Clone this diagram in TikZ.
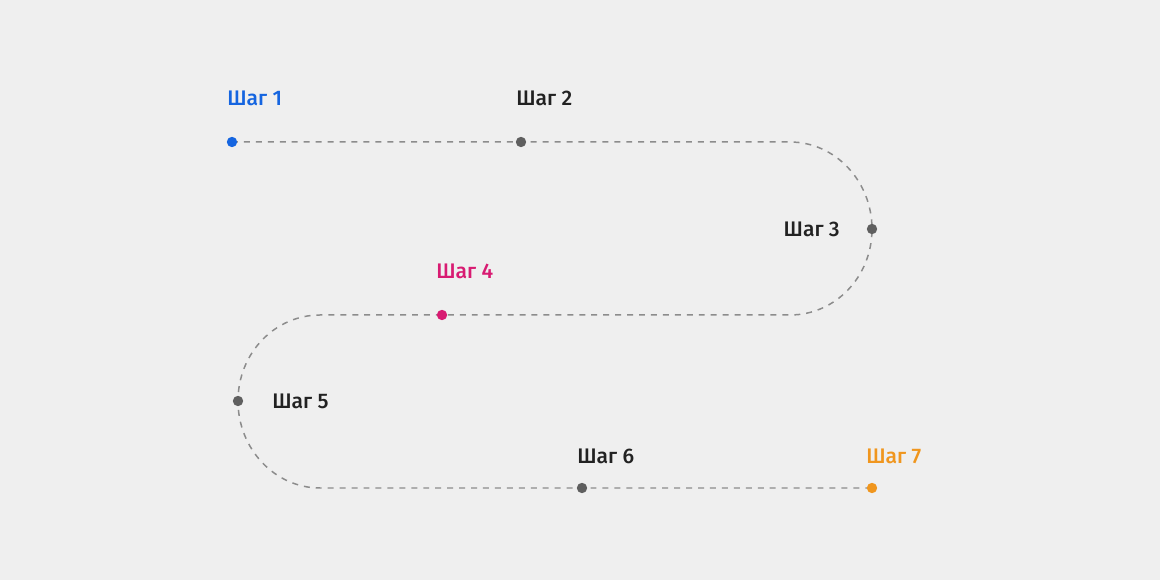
\documentclass[tikz,border=0pt]{standalone}
\usepackage{fontspec}
\setmainfont{Fira Sans}[UprightFont=* Medium]
\usepackage{tikz}
\definecolor{bgc}{HTML}{EFEFEF}
\definecolor{stepblue}{HTML}{1565E0}
\definecolor{steppink}{HTML}{D81B72}
\definecolor{steporange}{HTML}{F0961E}
\definecolor{stepgray}{HTML}{5F5F5F}
\definecolor{pathgray}{HTML}{8C8C8C}
\definecolor{txt}{HTML}{222222}
\tikzset{
  dot/.style={circle,fill=stepgray,inner sep=0pt,minimum size=5.9pt},
  lbl/.style={inner sep=0pt,text=txt,font=\fontsize{12}{14}\selectfont},
  route/.style={draw=pathgray,line width=0.85pt,dash pattern=on 3.4pt off 3.4pt}
}

\begin{document}
\begin{tikzpicture}[x=0.02cm,y=-0.02cm]
\fill[bgc] (0,0) rectangle (1160,580);
\useasboundingbox (0,0) rectangle (1160,580);
% points of the route
\coordinate (p1) at (232,142);
\coordinate (p2) at (521,142);
\coordinate (p3) at (872,229);
\coordinate (p4) at (442,315);
\coordinate (p5) at (238,401);
\coordinate (p6) at (582,488);
\coordinate (p7) at (872,488);
\coordinate (ra) at (790,142);
\coordinate (rb) at (790,315);
\coordinate (la) at (320,315);
\coordinate (lb) at (320,488);
\draw[route] (p1) -- (p2) -- (ra)
  .. controls (835,142) and (872,181) .. (p3)
  .. controls (872,277) and (835,315) .. (rb)
  -- (p4) -- (la)
  .. controls (275,315) and (238,353) .. (p5)
  .. controls (238,449) and (275,488) .. (lb)
  -- (p6) -- (p7);
% dots
\node[dot,fill=stepblue] (s1) at (p1) {};
\node[dot] (s2) at (p2) {};
\node[dot] (s3) at (p3) {};
\node[dot,fill=steppink] (s4) at (p4) {};
\node[dot] (s5) at (p5) {};
\node[dot] (s6) at (p6) {};
\node[dot,fill=steporange] (s7) at (p7) {};
% labels
\node[lbl,anchor=west,text=stepblue] (l1) at (227,98) {Шаг 1};
\node[lbl,anchor=west] (l2) at (516,98) {Шаг 2};
\node[lbl,anchor=east] (l3) at (840,229) {Шаг 3};
\node[lbl,anchor=west,text=steppink] (l4) at (436,271) {Шаг 4};
\node[lbl,anchor=west] (l5) at (272,401) {Шаг 5};
\node[lbl,anchor=west] (l6) at (577,456) {Шаг 6};
\node[lbl,anchor=west,text=steporange] (l7) at (866,456) {Шаг 7};
\end{tikzpicture}
\end{document}
